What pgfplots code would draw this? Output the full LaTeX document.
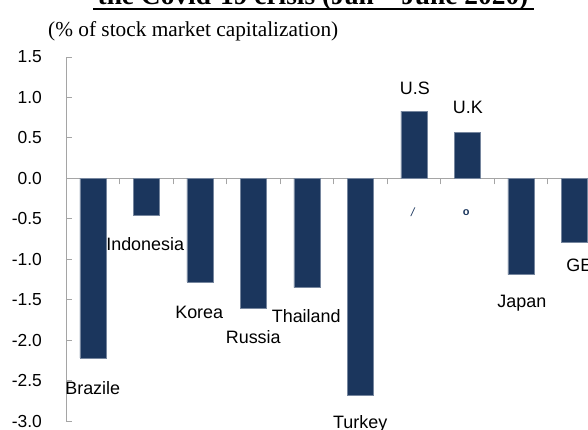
\documentclass[border=0pt]{standalone}
\usepackage{pgfplots}
\pgfplotsset{compat=1.18}
\usepackage{fontspec}
\setmainfont{Liberation Sans}
\newfontfamily\serif{Liberation Serif}
\definecolor{barblue}{RGB}{27,54,93}
\definecolor{axgray}{RGB}{165,165,165}
\begin{document}
\begin{tikzpicture}
\useasboundingbox (0bp,0bp) rectangle (588bp,430bp);
\clip (0bp,0bp) rectangle (588bp,430bp);
\begin{axis}[
  at={(66bp,9bp)}, anchor=south west,
  scale only axis, width=535bp, height=364bp,
  xmin=-0.5, xmax=9.5, ymin=-3, ymax=1.5,
  axis y line=left, axis x line=middle,
  axis line style={-, draw=axgray, line width=0.8bp},
  xtick={-0.5,0.5,...,9.5}, xticklabels={},
  ytick={-3,-2.5,...,1.5},
  major tick length=6bp,
  xtick align=outside, ytick align=inside,
  tick style={draw=axgray, line width=0.8bp},
  yticklabel style={font=\fontsize{17.5}{20}\selectfont, anchor=east, inner sep=0pt, xshift=-24bp},
  /pgf/number format/.cd, fixed, fixed zerofill, precision=1, assume math mode=true,
  /pgfplots/.cd,
  clip=false,
]
\addplot[ybar, bar width=26bp, fill=barblue, draw=barblue!60!white, line width=0.4bp] coordinates {
 (0,-2.22) (1,-0.46) (2,-1.28) (3,-1.60) (4,-1.35) (5,-2.68) (6,0.83) (7,0.57) (8,-1.19) (9,-0.79)
};
\begin{scope}[every node/.style={font=\fontsize{18}{21}\selectfont, anchor=base, inner sep=0pt}]
\node at (axis cs:0,-2.67) {Brazile};
\node at (axis cs:0.98,-0.89) {Indonesia};
\node at (axis cs:1.99,-1.73) {Korea};
\node at (axis cs:3.0,-2.04) {Russia};
\node at (axis cs:3.99,-1.78) {Thailand};
\node at (axis cs:5.0,-3.09) {Turkey};
\node at (axis cs:6.02,1.04) {U.S};
\node at (axis cs:7.01,0.80) {U.K};
\node at (axis cs:8.02,-1.60) {Japan};
\node[anchor=base west] at (axis cs:8.85,-1.15) {GER};
\end{scope}
\node[font=\fontsize{12}{14}\selectfont\itshape, text=barblue, anchor=center, inner sep=0pt] at (axis cs:5.98,-0.42) {/};
\node[font=\fontsize{11}{13}\selectfont\bfseries, text=barblue, anchor=center, inner sep=0pt] at (axis cs:6.98,-0.42) {o};
\end{axis}
\node[anchor=base west, inner sep=0pt, font=\serif\fontsize{21.4}{24}\selectfont] at (48bp,393bp) {(\% of stock market capitalization)};
\node[anchor=base, inner sep=0pt, font=\serif\bfseries\fontsize{27.5}{30}\selectfont] at (313bp,425bp) {the Covid-19 crisis (Jan – June 2020)};
\draw[line width=2.8bp] (93bp,421bp) -- (534bp,421bp);
\end{tikzpicture}
\end{document}
